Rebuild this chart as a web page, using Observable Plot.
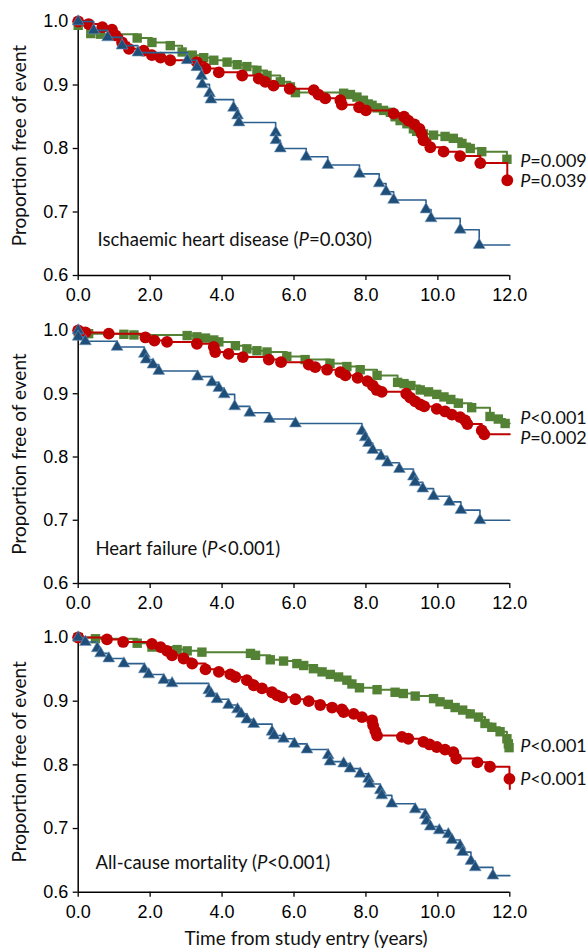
<!DOCTYPE html>
<html><head><meta charset="utf-8">
<script src="https://cdn.jsdelivr.net/npm/d3@7"></script>
<script src="https://cdn.jsdelivr.net/npm/@observablehq/plot@0.6"></script>
<style>body{margin:0;background:#fff} #chart svg{display:block}</style>
</head><body><div id="chart"></div>
<script>
// ---------- data ----------
const xTicks = [0, 2, 4, 6, 8, 10, 12];
const yTicks = [0.6, 0.7, 0.8, 0.9, 1.0];
const yTitle = "Proportion free of event";
const xTitle = "Time from study entry (years)";
const panelTitles = ["Ischaemic heart disease (P=0.030)", "Heart failure (P<0.001)", "All-cause mortality (P<0.001)"];
const pLabels = [["P=0.009", "P=0.039"], ["P<0.001", "P=0.002"], ["P<0.001", "P<0.001"]];

// [time (years), proportion free of event]
const ihdGreen = [[0,0.994],[0.35,0.981],[0.62,0.980],[1.64,0.974],[2.05,0.967],[2.56,0.962],[2.89,0.952],[3.17,0.947],[3.49,0.943],[3.77,0.939],[4.14,0.936],[4.42,0.932],[4.69,0.929],[4.97,0.923],[5.25,0.915],[5.62,0.905],[5.90,0.897],[6.04,0.888],[7.38,0.887],[7.57,0.885],[7.75,0.881],[7.93,0.876],[8.17,0.868],[8.31,0.864],[8.49,0.860],[8.68,0.857],[8.81,0.850],[8.95,0.844],[9.14,0.839],[9.32,0.831],[9.41,0.827],[9.60,0.823],[9.88,0.821],[10.20,0.819],[10.43,0.816],[10.67,0.808],[10.90,0.800],[11.22,0.795],[11.92,0.783]];
const ihdGreenEnd = [12.0, 0.783];
const ihdRed = [[0,1.0],[0.29,0.996],[0.67,0.991],[0.94,0.987],[1.04,0.978],[1.22,0.967],[1.41,0.957],[1.82,0.954],[2.05,0.947],[2.29,0.943],[2.56,0.939],[3.30,0.936],[3.54,0.926],[3.91,0.920],[4.56,0.915],[5.02,0.910],[5.20,0.905],[5.43,0.899],[5.88,0.894],[6.55,0.892],[6.68,0.885],[6.87,0.879],[7.29,0.876],[7.33,0.869],[7.81,0.865],[8.00,0.860],[8.77,0.855],[9.06,0.850],[9.18,0.844],[9.35,0.838],[9.49,0.831],[9.55,0.823],[9.60,0.813],[9.79,0.802],[10.16,0.795],[10.62,0.788],[11.18,0.777],[11.93,0.750]];
const ihdRedEnd = [11.93, 0.750];
const ihdBlue = [[0,1.0],[0.43,0.986],[0.82,0.975],[1.22,0.962],[1.66,0.951],[3.03,0.939],[3.30,0.928],[3.43,0.914],[3.45,0.901],[3.65,0.887],[3.69,0.877],[4.32,0.864],[4.43,0.852],[4.47,0.841],[5.49,0.825],[5.50,0.813],[5.62,0.800],[6.34,0.787],[6.94,0.774],[7.82,0.760],[8.37,0.745],[8.56,0.732],[8.77,0.719],[9.67,0.704],[9.81,0.690],[10.62,0.672],[11.15,0.648]];
const ihdBlueEnd = [12.0, 0.648];

const hfGreen = [[0,0.998],[0.29,0.995],[1.27,0.994],[1.55,0.993],[3.03,0.992],[3.30,0.990],[3.54,0.988],[3.77,0.985],[3.91,0.982],[4.37,0.976],[4.69,0.971],[4.97,0.968],[5.25,0.966],[5.80,0.959],[6.31,0.954],[7.00,0.948],[7.47,0.943],[7.84,0.938],[8.31,0.929],[8.88,0.918],[9.06,0.916],[9.25,0.913],[9.51,0.906],[9.74,0.903],[9.97,0.899],[10.17,0.895],[10.36,0.891],[10.57,0.885],[10.94,0.878],[11.45,0.864],[11.68,0.860],[11.87,0.853]];
const hfGreenEnd = [12.0, 0.853];
const hfRed = [[0,1.0],[0.20,0.997],[0.85,0.995],[1.87,0.989],[2.12,0.984],[2.47,0.982],[3.30,0.979],[3.77,0.974],[3.81,0.966],[4.18,0.963],[4.58,0.958],[5.30,0.954],[5.64,0.950],[6.41,0.946],[6.59,0.942],[6.92,0.938],[7.29,0.934],[7.43,0.929],[7.77,0.925],[8.04,0.920],[8.19,0.913],[8.30,0.906],[8.44,0.903],[9.12,0.900],[9.23,0.894],[9.37,0.888],[9.51,0.883],[9.62,0.880],[9.97,0.876],[10.20,0.872],[10.39,0.867],[10.62,0.863],[10.76,0.858],[10.82,0.852],[11.22,0.842],[11.29,0.836]];
const hfRedEnd = [12.0, 0.836];
const hfBlue = [[0,1.0],[0.0,0.990],[0.20,0.983],[1.08,0.974],[1.84,0.963],[1.89,0.954],[2.08,0.946],[2.24,0.936],[3.32,0.927],[3.72,0.918],[3.91,0.909],[4.06,0.899],[4.35,0.880],[4.77,0.870],[5.32,0.860],[6.04,0.853],[7.89,0.841],[7.98,0.831],[8.07,0.822],[8.19,0.811],[8.42,0.801],[8.60,0.791],[8.93,0.781],[9.32,0.769],[9.37,0.760],[9.58,0.750],[9.88,0.738],[10.32,0.729],[10.64,0.716],[11.17,0.700]];
const hfBlueEnd = [12.0, 0.700];

const acmGreen = [[0,1.0],[0.48,0.998],[1.64,0.991],[2.05,0.985],[2.75,0.981],[3.03,0.979],[3.44,0.977],[4.79,0.975],[4.93,0.972],[5.34,0.965],[5.71,0.963],[6.08,0.959],[6.27,0.956],[6.54,0.951],[6.78,0.946],[7.01,0.942],[7.24,0.938],[7.47,0.933],[7.61,0.927],[7.82,0.921],[8.31,0.918],[8.81,0.914],[9.04,0.912],[9.37,0.908],[9.88,0.904],[10.06,0.899],[10.29,0.895],[10.48,0.890],[10.69,0.886],[10.90,0.880],[11.13,0.875],[11.31,0.865],[11.50,0.859],[11.73,0.852],[11.92,0.841],[11.96,0.833],[11.98,0.827]];
const acmGreenEnd = [12.0, 0.827];
const acmRed = [[0,1.0],[0.80,0.997],[1.25,0.993],[2.05,0.990],[2.29,0.985],[2.47,0.979],[2.61,0.972],[2.93,0.967],[3.17,0.959],[3.54,0.950],[3.91,0.946],[4.23,0.942],[4.37,0.938],[4.69,0.933],[4.88,0.925],[5.11,0.920],[5.39,0.914],[5.53,0.909],[5.67,0.906],[6.04,0.903],[6.41,0.900],[6.73,0.894],[7.06,0.890],[7.33,0.887],[7.38,0.883],[7.66,0.880],[7.89,0.875],[8.17,0.870],[8.20,0.862],[8.26,0.853],[8.31,0.846],[9.00,0.844],[9.18,0.841],[9.60,0.836],[9.77,0.832],[9.97,0.828],[10.20,0.824],[10.43,0.820],[10.51,0.810],[11.10,0.804],[11.45,0.797],[11.99,0.778]];
const acmRedEnd = [12.0, 0.762];
const acmBlue = [[0,1.0],[0.20,0.993],[0.53,0.983],[0.62,0.975],[0.85,0.967],[1.27,0.959],[1.84,0.950],[1.96,0.942],[2.38,0.933],[2.61,0.928],[3.63,0.917],[3.69,0.912],[3.86,0.903],[4.18,0.894],[4.43,0.887],[4.53,0.880],[4.69,0.871],[4.88,0.864],[5.39,0.852],[5.45,0.846],[5.71,0.841],[6.01,0.833],[6.36,0.824],[6.95,0.815],[7.00,0.805],[7.38,0.802],[7.56,0.794],[7.84,0.786],[8.07,0.778],[8.10,0.770],[8.40,0.760],[8.44,0.752],[8.72,0.739],[9.37,0.730],[9.65,0.721],[9.69,0.712],[9.79,0.703],[10.04,0.697],[10.29,0.691],[10.39,0.682],[10.62,0.673],[10.69,0.663],[10.92,0.649],[11.04,0.639],[11.53,0.626]];
const acmBlueEnd = [12.0, 0.626];

// ---------- layout / style ----------
const GREEN = "#548235", RED = "#c00000", BLUE = "#1f4e79", BLUE_LINE = "#2b5f8e";
const LABEL_FONT = "Lato, 'Open Sans', sans-serif";
const TICK_FONT = "'Liberation Sans', Arial, sans-serif";

const panels = [
  {green: ihdGreen, greenEnd: ihdGreenEnd, red: ihdRed, redEnd: ihdRedEnd, blue: ihdBlue, blueEnd: ihdBlueEnd,
   titleAt: [0.54, 0.656], pAt: [0.780, 0.748], height: 308, mt: 21, mb: 33},
  {green: hfGreen, greenEnd: hfGreenEnd, red: hfRed, redEnd: hfRedEnd, blue: hfBlue, blueEnd: hfBlueEnd,
   titleAt: [0.48, 0.655], pAt: [0.861, 0.829], height: 308, mt: 22, mb: 33},
  {green: acmGreen, greenEnd: acmGreenEnd, red: acmRed, redEnd: acmRedEnd, blue: acmBlue, blueEnd: acmBlueEnd,
   titleAt: [0.48, 0.646], pAt: [0.829, 0.777], height: 335, mt: 21, mb: 59.3}
];

const lineOf = (ev, end) => [[0, 1.0], ...ev, end];

const chart = document.getElementById("chart");
panels.forEach((p, i) => {
  const marks = [
    Plot.ruleY([0.6], {stroke: "#000", strokeWidth: 1.5}),
    Plot.ruleX([0], {stroke: "#000", strokeWidth: 1.5}),
    Plot.axisX({ticks: xTicks, tickFormat: d3.format(".1f"), tickSize: 5, tickPadding: 8, label: null,
      fontSize: 18, fontFamily: TICK_FONT, stroke: "#000", strokeWidth: 1.3}),
    Plot.axisY({ticks: yTicks, tickFormat: d3.format(".1f"), tickSize: 5, tickPadding: 5, label: null,
      fontSize: 18, fontFamily: TICK_FONT, stroke: "#000", strokeWidth: 1.3}),
    Plot.text([yTitle], {frameAnchor: "left", textAnchor: "middle", rotate: -90, dx: -58, dy: -3, fontSize: 19, fontFamily: LABEL_FONT, fill: "#111"}),
    // green squares
    Plot.line(lineOf(p.green, p.greenEnd), {x: d => d[0], y: d => d[1], curve: "step-after", stroke: GREEN, strokeWidth: 2}),
    Plot.dot(p.green, {x: d => d[0], y: d => d[1], symbol: "square", r: 5.3, fill: GREEN, stroke: "none"}),
    // red circles
    Plot.line(lineOf(p.red, p.redEnd), {x: d => d[0], y: d => d[1], curve: "step-after", stroke: RED, strokeWidth: 2}),
    Plot.dot(p.red, {x: d => d[0], y: d => d[1], symbol: "circle", r: 5.9, fill: RED, stroke: "none"}),
    // blue triangles
    Plot.line(lineOf(p.blue, p.blueEnd), {x: d => d[0], y: d => d[1], curve: "step-after", stroke: BLUE_LINE, strokeWidth: 1.6}),
    Plot.dot(p.blue, {x: d => d[0], y: d => d[1], symbol: "triangle", r: 4.4, fill: BLUE, stroke: "#6f95bb", strokeWidth: 0.6}),
    // labels
    Plot.text([panelTitles[i]], {x: p.titleAt[0], y: p.titleAt[1], textAnchor: "start", fontSize: 18.5, fontFamily: LABEL_FONT, fill: "#111", className: "ptext"}),
    Plot.text(pLabels[i], {x: 12.29, y: (d, j) => p.pAt[j], textAnchor: "start", fontSize: 18, fontFamily: LABEL_FONT, fill: "#111", className: "ptext"})
  ];
  if (i === 2) {
    marks.push(Plot.text([xTitle], {frameAnchor: "bottom", textAnchor: "middle", dy: 53, dx: 12, fontSize: 19, fontFamily: LABEL_FONT, fill: "#111"}));
  }
  const svg = Plot.plot({
    width: 587, height: p.height,
    marginLeft: 77.7, marginRight: 77.7, marginTop: p.mt, marginBottom: p.mb,
    x: {domain: [0, 12]},
    y: {domain: [0.6, 1.0]},
    style: {fontFamily: TICK_FONT, fontSize: "17px", color: "#000", background: "#fff", overflow: "visible"},
    marks
  });
  chart.appendChild(svg);
});

// italic "P" in statistical labels
d3.selectAll("g.ptext text").each(function() {
  const s = this.textContent;
  const sel = d3.select(this);
  sel.text(null);
  s.split(/(P(?=[=<]))/).forEach(part => {
    if (!part) return;
    const t = sel.append("tspan").text(part);
    if (part === "P") t.attr("font-style", "italic");
  });
});
</script>
</body></html>
